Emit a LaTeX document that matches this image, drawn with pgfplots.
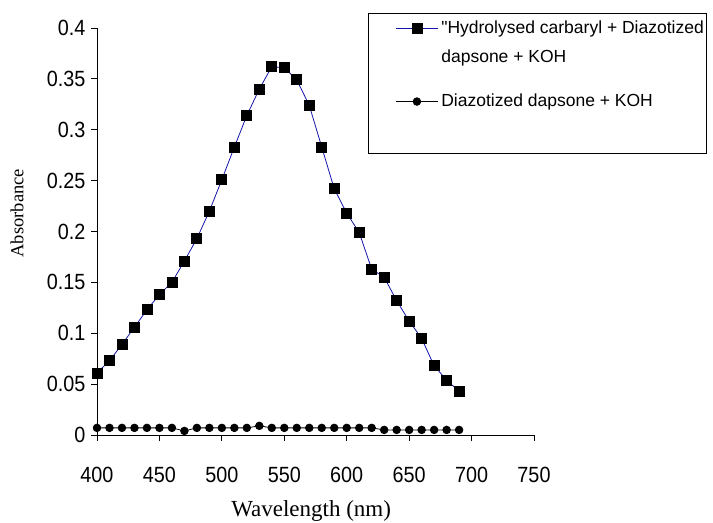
\documentclass[border=0pt]{standalone}
\usepackage{fontspec}
\setmainfont{Liberation Sans}
\newfontfamily\legfont{Liberation Sans}
\newfontfamily\tickfont[FakeStretch=0.9]{Liberation Sans}
\newfontfamily\labelfont{Liberation Serif}
\usepackage{pgfplots}
\pgfplotsset{compat=1.18}
\definecolor{navyline}{RGB}{20,20,170}

\pgfplotstableread{
x y
400 0.061
410 0.073
420 0.089
430 0.106
440 0.123
450 0.138
460 0.150
470 0.171
480 0.193
490 0.220
500 0.251
510 0.283
520 0.314
530 0.340
540 0.362
550 0.361
560 0.349
570 0.324
580 0.283
590 0.242
600 0.218
610 0.199
620 0.163
630 0.155
640 0.132
650 0.112
660 0.095
670 0.068
680 0.054
690 0.043
}\hydrolysed

\pgfplotstableread{
x y
400 0.007
410 0.007
420 0.007
430 0.007
440 0.007
450 0.007
460 0.007
470 0.004
480 0.007
490 0.007
500 0.007
510 0.007
520 0.007
530 0.009
540 0.007
550 0.007
560 0.007
570 0.007
580 0.007
590 0.007
600 0.007
610 0.007
620 0.007
630 0.005
640 0.005
650 0.005
660 0.005
670 0.005
680 0.005
690 0.005
}\dapsone

\begin{document}
\begin{tikzpicture}
\useasboundingbox (0,0) rectangle (713bp,523bp);
\begin{axis}[
  at={(97bp,88bp)}, anchor=south west,
  scale only axis, width=437bp, height=407bp,
  xmin=400, xmax=750, ymin=0, ymax=0.4,
  axis lines=left,
  axis line style={-, line width=1bp, black},
  xtick={400,450,500,550,600,650,700,750},
  xticklabels={400,450,500,550,600,650,700,750},
  ytick={0,0.05,0.1,0.15,0.2,0.25,0.3,0.35,0.4},
  yticklabels={0,0.05,0.1,0.15,0.2,0.25,0.3,0.35,0.4},
  tick align=outside,
  major tick length=6bp,
  tick style={line width=1bp, black},
  tick label style={font=\tickfont\fontsize{22bp}{25bp}\selectfont},
  xticklabel style={yshift=-23bp},
  yticklabel style={xshift=-2bp},
  clip=false,
  xlabel={Wavelength (nm)},
  ylabel={Absorbance},
  xlabel style={font=\labelfont\fontsize{23bp}{26bp}\selectfont, at={(axis description cs:0.49,-0.187)}, anchor=center},
  ylabel style={font=\labelfont\fontsize{18.5bp}{21bp}\selectfont, at={(axis description cs:-0.183,0.545)}, anchor=center},
  legend style={at={(axis description cs:0.620,1.037)}, anchor=north west,
    draw=black, line width=1.2bp, font=\legfont\fontsize{17.5bp}{20bp}\selectfont,
    inner xsep=3bp, inner ysep=7bp, row sep=12bp, /tikz/column sep=3bp,
    cells={anchor=base west},
    nodes={inner sep=0pt, anchor=base west, text height=13bp, text depth=4bp}},
  legend image code/.code={\path (0bp,0bp); \draw[mark repeat=2,mark phase=2,#1] plot coordinates {(24bp,5bp) (45bp,5bp) (66bp,5bp)};},
]
\addplot[navyline, line width=0.8bp, mark=square*, mark size=5bp, mark options={fill=black, draw=black, solid}] table[x=x,y=y] {\hydrolysed};
\addlegendentry{"Hydrolysed carbaryl + Diazotized}
\addlegendimage{empty legend}
\addlegendentry{dapsone + KOH}
\addplot[black, line width=0.8bp, mark=*, mark size=3.8bp, mark options={fill=black, draw=black, solid}] table[x=x,y=y] {\dapsone};
\addlegendentry[text height=28bp, text depth=40bp]{Diazotized dapsone + KOH}
\end{axis}
\end{tikzpicture}
\end{document}
